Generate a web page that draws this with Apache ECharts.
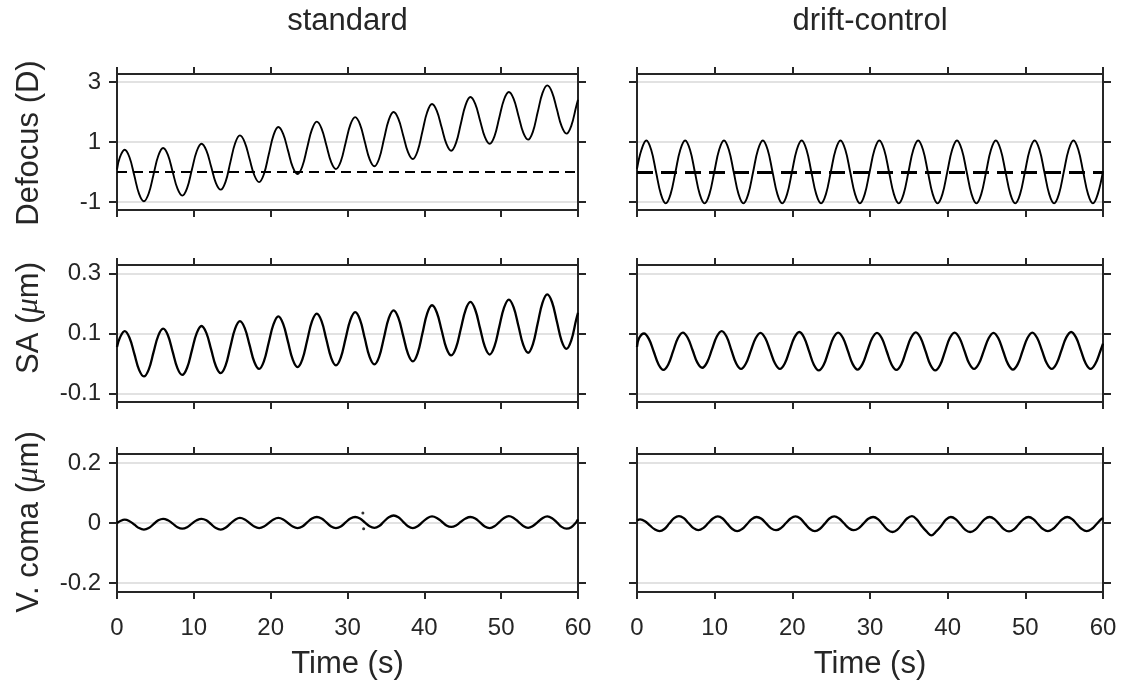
<!DOCTYPE html>
<html><head><meta charset="utf-8">
<script src="https://cdn.jsdelivr.net/npm/echarts@6/dist/echarts.min.js"></script>
<style>html,body{margin:0;padding:0;background:#fff}#c{width:1130px;height:688px}</style>
</head><body><div id="c"></div>
<script>
// ---------------- DATA ----------------
const panelTitles = ['standard', 'drift-control'];
const xAxisTitle = 'Time (s)';
const timeRange = [0, 60];
const timeStep = 10;
const defocusTicks = [-1, 1, 3];
const saTicks = [-0.1, 0.1, 0.3];
const vcomaTicks = [-0.2, 0, 0.2];
const defocusRange = [-1.27, 3.27];
const saRange = [-0.128, 0.328];
const vcomaRange = [-0.23, 0.23];
const refLevel = 0;

// standard condition (sample times, s)
const tStd = [0, 0.375, 1, 1.625, 2.25, 2.875, 3.5, 4.125, 4.75, 5.375, 6, 6.625, 7.25, 7.875, 8.5, 9.125, 9.75, 10.375, 11, 11.625, 12.25, 12.875, 13.5, 14.125, 14.75, 15.375, 16, 16.625, 17.25, 17.875, 18.5, 19.125, 19.75, 20.375, 21, 21.625, 22.25, 22.875, 23.5, 24.125, 24.75, 25.375, 26, 26.625, 27.25, 27.875, 28.5, 29.125, 29.75, 30.375, 31, 31.625, 32.25, 32.875, 33.5, 34.125, 34.75, 35.375, 36, 36.625, 37.25, 37.875, 38.5, 39.125, 39.75, 40.375, 41, 41.625, 42.25, 42.875, 43.5, 44.125, 44.75, 45.375, 46, 46.625, 47.25, 47.875, 48.5, 49.125, 49.75, 50.375, 51, 51.625, 52.25, 52.875, 53.5, 54.125, 54.75, 55.375, 56, 56.625, 57.25, 57.875, 58.5, 59.125, 59.75, 60];
const defocusStd = [0.08, 0.49, 0.74,
  0.49, -0.12, -0.73, -0.98,  -0.72, -0.09, 0.54, 0.80,
  0.57, 0.00, -0.56, -0.79,  -0.54, 0.08, 0.69, 0.94,
  0.72, 0.18, -0.37, -0.59,  -0.33, 0.32, 0.96, 1.22,
  0.99, 0.44, -0.11, -0.34,  -0.07, 0.58, 1.23, 1.50,
  1.27, 0.72, 0.16, -0.07,  0.19, 0.81, 1.42, 1.68,
  1.45, 0.89, 0.33, 0.10,  0.35, 0.97, 1.58, 1.83,
  1.59, 1.01, 0.43, 0.19,  0.45, 1.10, 1.74, 2.00,
  1.77, 1.22, 0.66, 0.43,  0.70, 1.35, 2.00, 2.27,
  2.04, 1.49, 0.94, 0.71,  0.97, 1.61, 2.24, 2.50,
  2.27, 1.72, 1.17, 0.94,  1.19, 1.81, 2.42, 2.67,
  2.44, 1.88, 1.31, 1.08,  1.34, 1.99, 2.63, 2.89,
  2.66, 2.09, 1.52, 1.28,
  1.54, 2.17, 2.41];
const saStd = [0.055, 0.086, 0.108,
  0.086, 0.033, -0.021, -0.043,  -0.020, 0.037, 0.093, 0.116,
  0.094, 0.039, -0.016, -0.038,  -0.014, 0.044, 0.101, 0.125,
  0.102, 0.047, -0.009, -0.032,  -0.007, 0.055, 0.116, 0.141,
  0.118, 0.062, 0.005, -0.018,  0.008, 0.070, 0.131, 0.157,
  0.132, 0.073, 0.013, -0.012,  0.014, 0.077, 0.140, 0.166,
  0.141, 0.080, 0.019, -0.006,  0.020, 0.083, 0.145, 0.171,
  0.146, 0.084, 0.022, -0.003,  0.023, 0.087, 0.151, 0.177,
  0.152, 0.092, 0.032, 0.007,  0.034, 0.100, 0.167, 0.194,
  0.170, 0.111, 0.051, 0.027,  0.053, 0.116, 0.179, 0.205,
  0.179, 0.118, 0.056, 0.030,  0.057, 0.122, 0.186, 0.213,
  0.187, 0.125, 0.062, 0.036,  0.064, 0.133, 0.202, 0.230,
  0.204, 0.140, 0.075, 0.049,
  0.077, 0.145, 0.169];
const vcomaStd = [0.000, 0.006, 0.011,
  0.006, -0.005, -0.017, -0.022,  -0.017, -0.004, 0.009, 0.014,
  0.009, -0.002, -0.014, -0.019,  -0.014, -0.002, 0.009, 0.014,
  0.009, -0.004, -0.017, -0.022,  -0.016, -0.002, 0.011, 0.017,
  0.012, 0.000, -0.012, -0.017,  -0.012, 0.000, 0.012, 0.017,
  0.012, 0.000, -0.012, -0.017,  -0.012, 0.002, 0.015, 0.020,
  0.015, 0.002, -0.012, -0.017,  -0.012, 0.002, 0.015, 0.020,
  0.015, 0.002, -0.011, -0.016,  -0.010, 0.005, 0.019, 0.025,
  0.019, 0.004, -0.011, -0.017,  -0.011, 0.003, 0.016, 0.022,
  0.017, 0.005, -0.008, -0.013,  -0.008, 0.004, 0.015, 0.020,
  0.015, 0.002, -0.012, -0.017,  -0.011, 0.003, 0.017, 0.023,
  0.017, 0.004, -0.010, -0.016,  -0.010, 0.003, 0.016, 0.022,
  0.016, 0.002, -0.013, -0.019,
  -0.014, 0.002, 0.012];
const vcomaStdOutlierT = [32.0, 32.1];
const vcomaStdOutlierV = [0.033, -0.019];

// drift-control condition
const tDriftDef = [0, 0.575, 1.2, 1.825, 2.45, 3.075, 3.7, 4.325, 4.95, 5.575, 6.2, 6.825, 7.45, 8.075, 8.7, 9.325, 9.95, 10.575, 11.2, 11.825, 12.45, 13.075, 13.7, 14.325, 14.95, 15.575, 16.2, 16.825, 17.45, 18.075, 18.7, 19.325, 19.95, 20.575, 21.2, 21.825, 22.45, 23.075, 23.7, 24.325, 24.95, 25.575, 26.2, 26.825, 27.45, 28.075, 28.7, 29.325, 29.95, 30.575, 31.2, 31.825, 32.45, 33.075, 33.7, 34.325, 34.95, 35.575, 36.2, 36.825, 37.45, 38.075, 38.7, 39.325, 39.95, 40.575, 41.2, 41.825, 42.45, 43.075, 43.7, 44.325, 44.95, 45.575, 46.2, 46.825, 47.45, 48.075, 48.7, 49.325, 49.95, 50.575, 51.2, 51.825, 52.45, 53.075, 53.7, 54.325, 54.95, 55.575, 56.2, 56.825, 57.45, 58.075, 58.7, 59.325, 60];
const defocusDrift = [0.10, 0.74, 1.05,
  0.74, 0.00, -0.74, -1.05,  -0.74, 0.00, 0.74, 1.05,
  0.74, 0.00, -0.74, -1.05,  -0.74, 0.00, 0.74, 1.05,
  0.74, 0.00, -0.74, -1.05,  -0.74, 0.00, 0.74, 1.05,
  0.74, 0.00, -0.74, -1.05,  -0.74, 0.00, 0.74, 1.05,
  0.74, 0.00, -0.74, -1.05,  -0.74, 0.00, 0.74, 1.05,
  0.74, 0.00, -0.74, -1.05,  -0.74, 0.00, 0.74, 1.05,
  0.74, 0.00, -0.74, -1.05,  -0.74, 0.00, 0.74, 1.05,
  0.74, 0.00, -0.74, -1.05,  -0.74, 0.00, 0.74, 1.05,
  0.74, 0.00, -0.74, -1.05,  -0.74, 0.00, 0.74, 1.05,
  0.74, 0.00, -0.74, -1.05,  -0.74, 0.00, 0.74, 1.05,
  0.74, 0.00, -0.74, -1.05,  -0.74, 0.00, 0.74, 1.05,
  0.74, 0.00, -0.74, -1.05,
  -0.74, 0.03];
const tDriftSA = [0, 0.275, 0.9, 1.525, 2.15, 2.775, 3.4, 4.025, 4.65, 5.275, 5.9, 6.525, 7.15, 7.775, 8.4, 9.025, 9.65, 10.275, 10.9, 11.525, 12.15, 12.775, 13.4, 14.025, 14.65, 15.275, 15.9, 16.525, 17.15, 17.775, 18.4, 19.025, 19.65, 20.275, 20.9, 21.525, 22.15, 22.775, 23.4, 24.025, 24.65, 25.275, 25.9, 26.525, 27.15, 27.775, 28.4, 29.025, 29.65, 30.275, 30.9, 31.525, 32.15, 32.775, 33.4, 34.025, 34.65, 35.275, 35.9, 36.525, 37.15, 37.775, 38.4, 39.025, 39.65, 40.275, 40.9, 41.525, 42.15, 42.775, 43.4, 44.025, 44.65, 45.275, 45.9, 46.525, 47.15, 47.775, 48.4, 49.025, 49.65, 50.275, 50.9, 51.525, 52.15, 52.775, 53.4, 54.025, 54.65, 55.275, 55.9, 56.525, 57.15, 57.775, 58.4, 59.025, 59.65, 60];
const saDrift = [0.055, 0.085, 0.100,
  0.082, 0.040, -0.003, -0.021,  -0.003, 0.041, 0.085, 0.103,
  0.086, 0.045, 0.003, -0.014,  0.004, 0.047, 0.090, 0.108,
  0.090, 0.045, 0.000, -0.018,  0.000, 0.042, 0.084, 0.102,
  0.084, 0.042, 0.000, -0.018,  0.000, 0.044, 0.087, 0.105,
  0.086, 0.041, -0.004, -0.023,  -0.005, 0.040, 0.085, 0.103,
  0.085, 0.042, -0.002, -0.020,  -0.002, 0.041, 0.084, 0.102,
  0.084, 0.041, -0.003, -0.021,  -0.003, 0.042, 0.086, 0.104,
  0.085, 0.041, -0.004, -0.023,  -0.005, 0.040, 0.085, 0.103,
  0.085, 0.043, 0.000, -0.018,  0.000, 0.042, 0.084, 0.102,
  0.084, 0.041, -0.002, -0.020,  -0.002, 0.042, 0.085, 0.103,
  0.085, 0.043, 0.000, -0.018,  0.000, 0.044, 0.087, 0.105,
  0.087, 0.044, 0.000, -0.018,
  0.000, 0.041, 0.066];
const tDriftVC = [0, 0.4, 1.025, 1.65, 2.275, 2.9, 3.525, 4.15, 4.775, 5.4, 6.025, 6.65, 7.275, 7.9, 8.525, 9.15, 9.775, 10.4, 11.025, 11.65, 12.275, 12.9, 13.525, 14.15, 14.775, 15.4, 16.025, 16.65, 17.275, 17.9, 18.525, 19.15, 19.775, 20.4, 21.025, 21.65, 22.275, 22.9, 23.525, 24.15, 24.775, 25.4, 26.025, 26.65, 27.275, 27.9, 28.525, 29.15, 29.775, 30.4, 31.025, 31.65, 32.275, 32.9, 33.525, 34.15, 34.775, 35.4, 36.025, 36.65, 37.275, 37.9, 38.525, 39.15, 39.775, 40.4, 41.025, 41.65, 42.275, 42.9, 43.525, 44.15, 44.775, 45.4, 46.025, 46.65, 47.275, 47.9, 48.525, 49.15, 49.775, 50.4, 51.025, 51.65, 52.275, 52.9, 53.525, 54.15, 54.775, 55.4, 56.025, 56.65, 57.275, 57.9, 58.525, 59.15, 59.775, 60];
const vcomaDrift = [0.008, 0.012,
  0.006, -0.008, -0.021, -0.027,  -0.020, -0.002, 0.016, 0.023,
  0.016, -0.001, -0.017, -0.024,  -0.017, -0.001, 0.015, 0.022,
  0.015, -0.003, -0.020, -0.027,  -0.020, -0.004, 0.013, 0.020,
  0.014, -0.002, -0.018, -0.024,  -0.017, -0.001, 0.015, 0.022,
  0.015, -0.003, -0.020, -0.027,  -0.020, -0.003, 0.015, 0.022,
  0.015, -0.001, -0.017, -0.024,  -0.018, -0.002, 0.014, 0.020,
  0.013, -0.005, -0.023, -0.030,  -0.022, -0.004, 0.015, 0.023,
  0.012, -0.010, -0.028, -0.041,  -0.028, -0.010, 0.011, 0.020,
  0.013, -0.005, -0.023, -0.030,  -0.023, -0.005, 0.013, 0.020,
  0.013, -0.004, -0.021, -0.028,  -0.021, -0.004, 0.013, 0.020,
  0.013, -0.004, -0.020, -0.027,  -0.020, -0.004, 0.013, 0.020,
  0.013, -0.004, -0.020, -0.027,
  -0.020, -0.004, 0.013, 0.017];

// ---------------- LAYOUT / STYLE ----------------
const FONT = '"Liberation Sans", Arial, Helvetica, sans-serif';
const AX = '#262626';
const cols = [{left: 117, width: 461}, {left: 637, width: 466}];
const rows = [{top: 74, height: 136}, {top: 265, height: 137}, {top: 454, height: 138}];
const rowAxes = [
  {range: defocusRange, ticks: defocusTicks},
  {range: saRange, ticks: saTicks},
  {range: vcomaRange, ticks: vcomaTicks}
];

const grids = [], xAxes = [], yAxes = [], series = [];
for (let r = 0; r < 3; r++) {
  for (let c = 0; c < 2; c++) {
    const gi = r * 2 + c;
    grids.push({left: cols[c].left, width: cols[c].width, top: rows[r].top, height: rows[r].height, containLabel: false});
    ['bottom', 'top'].forEach((pos, k) => {
      xAxes.push({
        gridIndex: gi, type: 'value', position: pos,
        min: timeRange[0], max: timeRange[1], interval: timeStep,
        axisLine: {show: true, onZero: false, lineStyle: {color: AX, width: 2}},
        axisTick: {show: true, inside: false, length: 7, lineStyle: {color: AX, width: 2}},
        axisLabel: {show: k === 0 && r === 2, fontSize: 24, fontFamily: FONT, color: AX, margin: 24},
        splitLine: {show: false}
      });
    });
    const ra = rowAxes[r];
    ['left', 'right'].forEach((pos, k) => {
      yAxes.push({
        gridIndex: gi, type: 'value', position: pos,
        min: ra.range[0], max: ra.range[1],
        axisLine: {show: true, onZero: false, lineStyle: {color: AX, width: 2}},
        axisTick: {show: true, inside: false, length: 8, customValues: ra.ticks, lineStyle: {color: AX, width: 2}},
        axisLabel: {show: k === 0 && c === 0, customValues: ra.ticks, fontSize: 24, fontFamily: FONT, color: AX, margin: 16},
        splitLine: {show: k === 0, lineStyle: {color: '#e2e2e2', width: 2}}
      });
    });
  }
}

const seriesDefs = [
  {g: 0, t: tStd, v: defocusStd, w: 1.9, dash: [10, 6], dashW: 1.8},
  {g: 1, t: tDriftDef, v: defocusDrift, w: 1.9, dash: [16, 8], dashW: 3},
  {g: 2, t: tStd, v: saStd, w: 2.3},
  {g: 3, t: tDriftSA, v: saDrift, w: 2.3},
  {g: 4, t: tStd, v: vcomaStd, w: 2.3},
  {g: 5, t: tDriftVC, v: vcomaDrift, w: 2.3}
];
seriesDefs.forEach(d => {
  const s = {
    type: 'line', xAxisIndex: d.g * 2, yAxisIndex: d.g * 2,
    data: d.t.map((t, i) => [t, d.v[i]]),
    showSymbol: false, smooth: 0.4, silent: true, animation: false, z: 3,
    lineStyle: {color: '#000', width: d.w}
  };
  if (d.dash) {
    s.markLine = {
      silent: true, symbol: ['none', 'none'], label: {show: false}, animation: false,
      lineStyle: {color: '#000', type: d.dash, width: d.dashW},
      data: [{yAxis: refLevel}]
    };
  }
  series.push(s);
});
series.push({
  type: 'scatter', xAxisIndex: 8, yAxisIndex: 8, silent: true, animation: false,
  data: vcomaStdOutlierT.map((t, i) => [t, vcomaStdOutlierV[i]]),
  symbolSize: 3, itemStyle: {color: '#000'}
});

const txt = (x, y, text, rot, rich) => ({
  type: 'text', x: x, y: y, rotation: rot || 0, silent: true,
  style: {text: text, fontSize: 31, fontFamily: FONT, fill: AX, align: 'center', verticalAlign: 'middle', rich: rich}
});
const muRich = {mu: {fontSize: 31, fontFamily: '"Liberation Serif", "DejaVu Serif", serif', fontStyle: 'italic', fill: AX}};
const graphics = [
  txt(347.5, 21, panelTitles[0]),
  txt(870, 21, panelTitles[1]),
  txt(347.5, 664, xAxisTitle),
  txt(870, 664, xAxisTitle),
  txt(29, 143, 'Defocus (D)', Math.PI / 2),
  txt(29, 318, 'SA ({mu|μ}m)', Math.PI / 2, muRich),
  txt(29, 522, 'V. coma ({mu|μ}m)', Math.PI / 2, muRich)
];

const chart = echarts.init(document.getElementById('c'), null, {renderer: 'canvas'});
chart.setOption({
  backgroundColor: '#ffffff',
  animation: false,
  grid: grids, xAxis: xAxes, yAxis: yAxes, series: series,
  graphic: graphics
});
</script>
</body></html>
